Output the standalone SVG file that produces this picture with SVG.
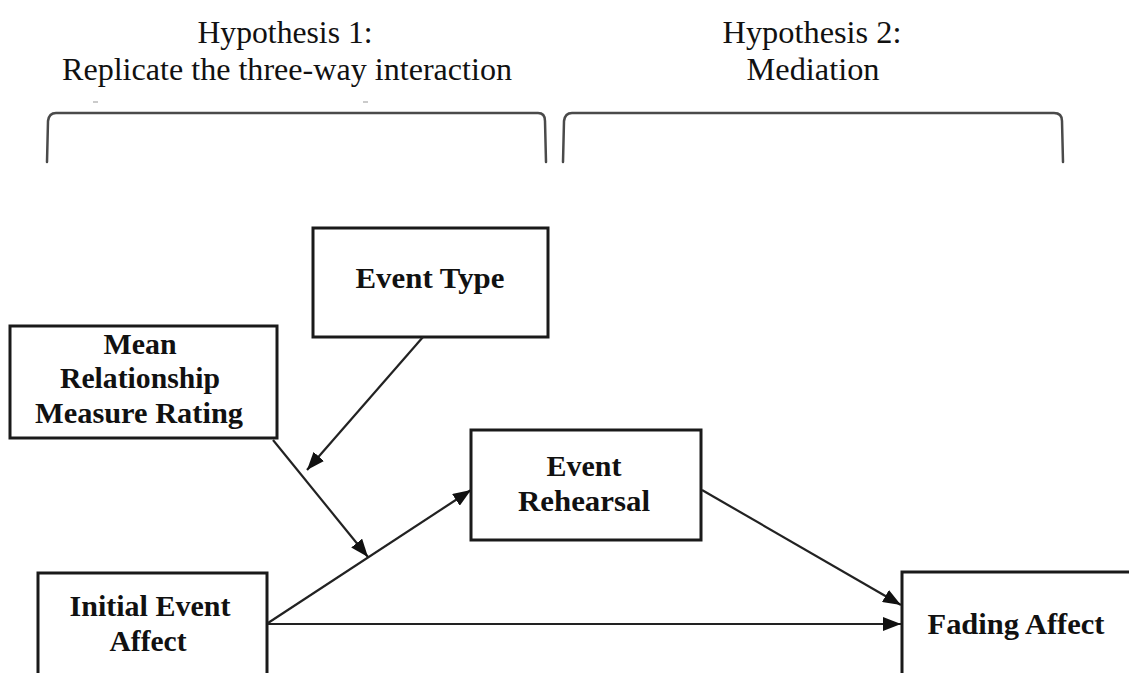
<svg xmlns="http://www.w3.org/2000/svg" width="1129" height="673" viewBox="0 0 1129 673">
<defs>
<style>
.hdr{font-family:"Liberation Serif","Times New Roman",serif;font-size:32px;fill:#111;text-anchor:middle}
.lbl{font-family:"Liberation Serif","Times New Roman",serif;font-size:29px;font-weight:bold;fill:#111;text-anchor:middle}
.box{fill:#fff;stroke:#1a1a1a;stroke-width:3}
.br{fill:none;stroke:#4a4a4a;stroke-width:2.5;stroke-linecap:round}
.edge{stroke:#222;stroke-width:2.2;fill:none}
</style>
<marker id="ah" markerUnits="userSpaceOnUse" markerWidth="18" markerHeight="14" refX="18" refY="7" orient="auto">
<path d="M0,0 L18,7 L0,14 z" fill="#111"/>
</marker>
</defs>
<rect width="1129" height="673" fill="#fff"/>
<g id="headers">
<text class="hdr" x="285" y="43" textLength="175" lengthAdjust="spacingAndGlyphs">Hypothesis 1:</text>
<text class="hdr" x="287" y="80" textLength="450" lengthAdjust="spacingAndGlyphs">Replicate the three-way interaction</text>
<text class="hdr" x="812" y="43" textLength="179" lengthAdjust="spacingAndGlyphs">Hypothesis 2:</text>
<text class="hdr" x="813" y="80" textLength="133" lengthAdjust="spacingAndGlyphs">Mediation</text>
</g>
<g id="brackets">
<path class="br" d="M47,162 L48,121 Q49,113 56,113 L538,113 Q545,113 545,121 L546,162"/>
<path class="br" d="M563,162 L564,121 Q565,113 572,113 L1054,113 Q1062,113 1062,121 L1063,162"/>
<path d="M93,102 L98,102 M363,102 L368,102" stroke="#bbb" stroke-width="1.5"/>
</g>
<g id="node-event-type">
<rect class="box" x="313" y="228" width="235" height="109"/>
<text class="lbl" x="430" y="288" textLength="149" lengthAdjust="spacingAndGlyphs">Event Type</text>
</g>
<g id="node-mean-relationship">
<rect class="box" x="10" y="326" width="267" height="112"/>
<text class="lbl" x="140" y="354" textLength="73" lengthAdjust="spacingAndGlyphs">Mean</text>
<text class="lbl" x="140" y="388" textLength="160" lengthAdjust="spacingAndGlyphs">Relationship</text>
<text class="lbl" x="139" y="423" textLength="208" lengthAdjust="spacingAndGlyphs">Measure Rating</text>
</g>
<g id="node-event-rehearsal">
<rect class="box" x="471" y="430" width="230" height="110"/>
<text class="lbl" x="584" y="476" textLength="75" lengthAdjust="spacingAndGlyphs">Event</text>
<text class="lbl" x="584" y="511" textLength="132" lengthAdjust="spacingAndGlyphs">Rehearsal</text>
</g>
<g id="node-initial-event-affect">
<rect class="box" x="38" y="573" width="229" height="120"/>
<text class="lbl" x="150" y="616" textLength="161" lengthAdjust="spacingAndGlyphs">Initial Event</text>
<text class="lbl" x="148" y="651" textLength="77" lengthAdjust="spacingAndGlyphs">Affect</text>
</g>
<g id="node-fading-affect">
<rect class="box" x="902" y="572" width="240" height="120"/>
<text class="lbl" x="1016" y="634" textLength="177" lengthAdjust="spacingAndGlyphs">Fading Affect</text>
</g>
<g id="connectors">
<line class="edge" x1="423" y1="337" x2="307" y2="470" marker-end="url(#ah)"/>
<line class="edge" x1="273" y1="440" x2="368" y2="557" marker-end="url(#ah)"/>
<line class="edge" x1="268" y1="623" x2="471" y2="490" marker-end="url(#ah)"/>
<line class="edge" x1="268" y1="624" x2="901" y2="624" marker-end="url(#ah)"/>
<line class="edge" x1="702" y1="490" x2="901" y2="605" marker-end="url(#ah)"/>
</g>
</svg>
